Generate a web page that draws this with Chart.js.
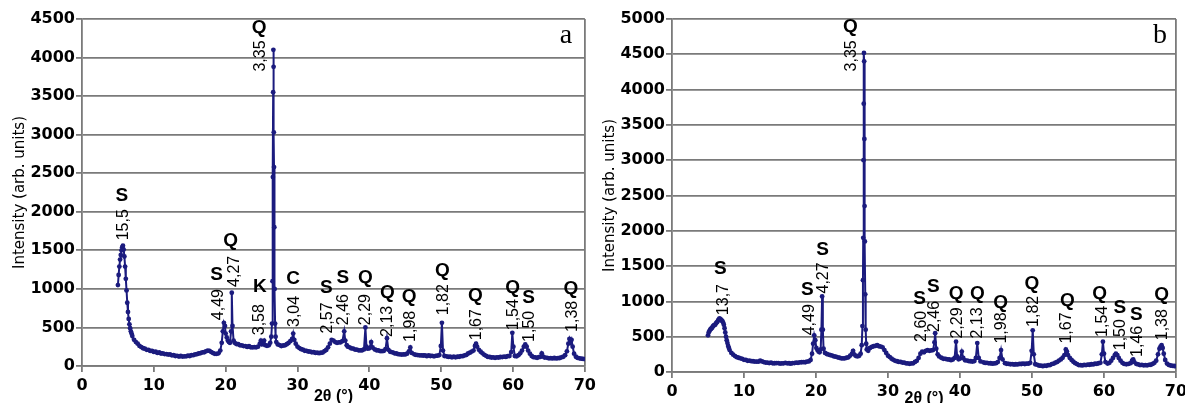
<!DOCTYPE html>
<html>
<head>
<meta charset="utf-8">
<script src="https://cdn.jsdelivr.net/npm/chart.js@4.4.1/dist/chart.umd.min.js"></script>
<style>
  html, body { margin: 0; padding: 0; background: #fff; }
  body { width: 1185px; height: 403px; overflow: hidden; position: relative; }
  .panel { position: absolute; top: 0; height: 420px; }
  #boxA { left: 0; width: 600px; }
  #boxB { left: 590px; width: 610px; }
</style>
</head>
<body>
<div class="panel" id="boxA"><canvas id="chartA"></canvas></div>
<div class="panel" id="boxB"><canvas id="chartB"></canvas></div>
<script>
// diffractogram a : [2theta, intensity]
const scanA = [
  [5.00,1050],[5.10,1180],[5.20,1290],[5.30,1380],[5.40,1440],[5.50,1500],[5.60,1540],[5.70,1560],[5.80,1510],[5.90,1420],
  [6.00,1290],[6.10,1130],[6.20,980],[6.30,820],[6.40,700],[6.50,610],[6.60,540],[6.70,490],[6.80,450],[6.90,420],
  [7.00,390],[7.25,340],[7.50,310],[7.75,290],[8.00,260],[8.25,245],[8.50,230],[8.75,225],[9.00,210],[9.25,210],
  [9.50,195],[9.75,195],[10.00,182],[10.25,185],[10.50,170],[10.75,175],[11.00,162],[11.25,165],[11.50,155],[11.75,155],
  [12.00,148],[12.25,150],[12.50,138],[12.75,140],[13.00,130],[13.25,132],[13.50,122],[13.75,130],[14.00,122],[14.25,125],
  [14.50,126],[14.75,133],[15.00,130],[15.25,140],[15.50,140],[15.75,150],[16.00,153],[16.25,162],[16.50,166],[16.75,177],
  [17.00,178],[17.25,190],[17.50,200],[17.75,195],[18.00,180],[18.25,168],[18.50,158],[18.75,158],[19.00,165],[19.25,200],
  [19.45,300],[19.60,450],[19.75,560],[19.90,520],[20.00,420],[20.15,370],[20.30,330],[20.45,310],[20.60,300],[20.75,450],
  [20.85,950],[20.95,520],[21.10,330],[21.25,300],[21.50,285],[21.75,282],[22.00,268],[22.25,268],[22.50,258],[22.75,258],
  [23.00,248],[23.25,256],[23.50,243],[23.75,242],[24.00,244],[24.25,242],[24.50,250],[24.75,290],[24.90,330],[25.05,280],
  [25.20,300],[25.35,330],[25.50,270],[25.75,262],[26.00,268],[26.20,300],[26.35,380],[26.45,550],[26.52,1100],[26.57,2450],
  [26.61,3550],[26.64,4100],[26.67,3880],[26.70,3030],[26.73,2580],[26.77,1800],[26.82,1000],[26.88,550],[26.95,380],[27.05,310],
  [27.25,280],[27.50,272],[27.75,258],[28.00,266],[28.25,268],[28.50,282],[28.75,298],[29.00,322],[29.25,350],[29.40,420],
  [29.55,340],[29.75,290],[30.00,250],[30.25,232],[30.50,218],[30.75,212],[31.00,198],[31.25,197],[31.50,188],[31.75,187],
  [32.00,178],[32.25,180],[32.50,170],[32.75,172],[33.00,166],[33.25,172],[33.50,174],[33.75,192],[34.00,208],[34.25,242],
  [34.50,290],[34.75,340],[35.00,330],[35.25,310],[35.50,300],[35.75,306],[36.00,308],[36.25,322],[36.50,450],[36.65,330],
  [36.85,270],[37.00,250],[37.25,242],[37.50,228],[37.75,226],[38.00,213],[38.25,212],[38.50,203],[38.75,202],[39.00,204],
  [39.25,215],[39.45,500],[39.60,250],[39.75,225],[40.00,230],[40.25,310],[40.45,240],[40.75,215],[41.00,204],[41.25,202],
  [41.50,193],[41.75,192],[42.00,195],[42.25,220],[42.45,360],[42.65,210],[42.90,185],[43.25,176],[43.50,164],[43.75,162],
  [44.00,153],[44.25,152],[44.50,148],[44.75,150],[45.00,150],[45.25,160],[45.50,190],[45.70,240],[45.90,170],[46.25,152],
  [46.50,143],[46.75,142],[47.00,138],[47.25,137],[47.50,136],[47.75,137],[48.00,128],[48.25,137],[48.50,130],[48.75,132],
  [49.00,126],[49.25,132],[49.50,134],[49.75,142],[49.95,260],[50.10,560],[50.25,200],[50.45,130],[50.75,126],[51.00,118],
  [51.25,120],[51.50,113],[51.75,120],[52.00,113],[52.25,120],[52.50,120],[52.75,127],[53.00,128],[53.25,137],[53.50,143],
  [53.75,162],[54.00,173],[54.25,187],[54.50,200],[54.70,260],[54.85,290],[55.00,250],[55.25,210],[55.50,185],[55.75,165],
  [56.00,145],[56.25,132],[56.50,118],[56.75,117],[57.00,110],[57.25,112],[57.50,106],[57.75,112],[58.00,110],[58.25,117],
  [58.50,116],[58.75,122],[59.00,118],[59.25,127],[59.50,130],[59.75,180],[59.90,430],[60.05,250],[60.25,130],[60.50,125],
  [60.75,140],[61.00,165],[61.25,200],[61.50,250],[61.70,280],[61.90,250],[62.10,200],[62.35,160],[62.60,130],[62.85,115],
  [63.10,112],[63.35,106],[63.60,114],[63.85,120],[64.00,165],[64.15,125],[64.40,110],[64.75,106],[65.00,100],[65.25,102],
  [65.50,98],[65.75,104],[66.00,98],[66.25,102],[66.50,104],[66.75,112],[67.00,120],[67.25,140],[67.50,190],[67.70,290],
  [67.85,350],[68.00,300],[68.15,340],[68.30,250],[68.50,160],[68.75,120],[69.00,105],[69.25,100],[69.50,95],[69.75,92],
  [70.00,90]
];

// diffractogram b : [2theta, intensity]
const scanB = [
  [5.00,520],[5.10,560],[5.20,580],[5.30,600],[5.40,610],[5.50,620],[5.60,630],[5.70,650],[5.80,660],[5.90,665],
  [6.00,670],[6.10,690],[6.20,700],[6.30,710],[6.40,730],[6.50,745],[6.60,760],[6.70,750],[6.80,740],[6.90,730],
  [7.00,720],[7.10,700],[7.20,670],[7.30,620],[7.40,560],[7.50,500],[7.60,450],[7.70,410],[7.80,370],[7.90,340],
  [8.00,310],[8.25,270],[8.50,245],[8.75,225],[9.00,210],[9.25,202],[9.50,193],[9.75,187],[10.00,173],[10.25,172],
  [10.50,158],[10.75,160],[11.00,153],[11.25,152],[11.50,148],[11.75,147],[12.00,146],[12.25,160],[12.50,150],[12.75,140],
  [13.00,133],[13.25,132],[13.50,126],[13.75,132],[14.00,123],[14.25,124],[14.50,126],[14.75,127],[15.00,120],[15.25,122],
  [15.50,123],[15.75,130],[16.00,123],[16.25,124],[16.50,118],[16.75,127],[17.00,126],[17.25,132],[17.50,130],[17.75,137],
  [18.00,138],[18.25,140],[18.50,138],[18.75,147],[19.00,150],[19.25,170],[19.45,260],[19.60,400],[19.75,520],[19.90,450],
  [20.05,340],[20.20,310],[20.35,290],[20.50,280],[20.65,320],[20.75,600],[20.85,1070],[20.95,600],[21.05,330],[21.25,270],
  [21.50,255],[21.75,247],[22.00,238],[22.25,232],[22.50,220],[22.75,217],[23.00,208],[23.25,202],[23.50,193],[23.75,192],
  [24.00,193],[24.25,202],[24.50,208],[24.75,232],[25.00,260],[25.15,300],[25.30,250],[25.50,230],[25.75,220],[26.00,230],
  [26.20,260],[26.35,380],[26.45,650],[26.52,1300],[26.56,1900],[26.60,3000],[26.63,3800],[26.66,4520],[26.69,4400],[26.72,3300],
  [26.75,2350],[26.79,1850],[26.84,1100],[26.90,600],[26.97,400],[27.05,320],[27.25,300],[27.50,340],[27.75,355],[28.00,365],
  [28.25,370],[28.50,380],[28.75,365],[29.00,360],[29.25,350],[29.50,310],[29.75,270],[30.00,230],[30.25,212],[30.50,188],
  [30.75,172],[31.00,158],[31.25,152],[31.50,143],[31.75,142],[32.00,133],[32.25,132],[32.50,123],[32.75,122],[33.00,116],
  [33.25,122],[33.50,123],[33.75,142],[34.00,158],[34.25,200],[34.50,260],[34.75,290],[35.00,280],[35.25,300],[35.50,310],
  [35.75,300],[36.00,305],[36.25,310],[36.45,420],[36.55,550],[36.70,330],[36.90,250],[37.10,220],[37.40,202],[37.70,188],
  [38.00,187],[38.25,178],[38.50,177],[38.75,168],[39.00,177],[39.25,200],[39.45,430],[39.60,220],[39.80,180],[40.00,190],
  [40.25,290],[40.45,200],[40.70,165],[41.00,162],[41.25,153],[41.50,152],[41.75,148],[42.00,155],[42.20,200],[42.40,410],
  [42.60,200],[42.85,150],[43.25,137],[43.50,128],[43.75,130],[44.00,123],[44.25,124],[44.50,118],[44.75,122],[45.00,125],
  [45.25,140],[45.50,200],[45.70,310],[45.90,180],[46.25,125],[46.50,117],[46.75,116],[47.00,110],[47.25,112],[47.50,106],
  [47.75,110],[48.00,108],[48.25,114],[48.50,113],[48.75,120],[49.00,113],[49.25,120],[49.50,118],[49.75,130],[49.95,300],
  [50.10,590],[50.25,250],[50.45,110],[50.75,102],[51.00,90],[51.25,90],[51.50,83],[51.75,90],[52.00,88],[52.25,97],
  [52.50,98],[52.75,112],[53.00,118],[53.25,132],[53.50,143],[53.75,162],[54.00,178],[54.25,202],[54.50,240],[54.70,320],
  [54.85,290],[55.00,240],[55.25,200],[55.50,170],[55.75,145],[56.00,125],[56.25,112],[56.50,98],[56.75,97],[57.00,93],
  [57.25,100],[57.50,98],[57.75,104],[58.00,103],[58.25,110],[58.50,108],[58.75,117],[59.00,116],[59.25,124],[59.50,130],
  [59.70,250],[59.85,430],[60.00,260],[60.20,140],[60.50,120],[60.75,130],[61.00,160],[61.25,200],[61.50,240],[61.65,260],
  [61.85,240],[62.05,200],[62.30,160],[62.55,130],[62.80,115],[63.10,110],[63.40,115],[63.70,125],[63.90,160],[64.05,180],
  [64.20,140],[64.50,115],[64.75,107],[65.00,98],[65.25,100],[65.50,94],[65.75,97],[66.00,95],[66.25,102],[66.50,103],
  [66.75,115],[67.00,130],[67.25,160],[67.50,250],[67.70,330],[67.85,360],[68.00,380],[68.15,340],[68.30,260],[68.50,170],
  [68.75,120],[69.00,100],[69.25,92],[69.50,88],[69.75,85],[70.00,82]
];

// peak labels: angle, intensity where the d-spacing starts, d-spacing, phase, phase letter angle / intensity
const peaksA = [
  [5.65, 1630, '15,5', 'S', 5.55, 2210],
  [18.9, 594, '4,49', 'S', 18.75, 1178],
  [21.15, 1026, '4,27', 'Q', 20.7, 1626],
  [24.6, 399, '3,58', 'K', 24.76, 1026],
  [24.67, 3818, '3,35', 'Q', 24.67, 4392],
  [29.4, 506, '3,04', 'C', 29.4, 1135],
  [34.0, 421, '2,57', 'S', 34.0, 1010],
  [36.3, 529, '2,46', 'S', 36.3, 1138],
  [39.4, 529, '2,29', 'Q', 39.45, 1138],
  [42.45, 377, '2,13', 'Q', 42.5, 951],
  [45.6, 312, '1,98', 'Q', 45.55, 896],
  [50.2, 658, '1,82', 'Q', 50.15, 1232],
  [54.77, 334, '1,67', 'Q', 54.77, 907],
  [59.95, 464, '1,54', 'Q', 59.95, 1015],
  [62.1, 312, '1,50', 'S', 62.15, 879],
  [68.1, 442, '1,38', 'Q', 68.05, 996]
];
const peaksB = [
  [6.96, 805, '13,7', 'S', 6.7, 1467],
  [19.0, 520, '4,49', 'S', 18.8, 1170],
  [20.9, 1112, '4,27', 'S', 20.9, 1735],
  [24.76, 4257, '3,35', 'Q', 24.76, 4884],
  [34.47, 426, '2,60', 'S', 34.4, 1031],
  [36.3, 567, '2,46', 'S', 36.3, 1206],
  [39.46, 474, '2,29', 'Q', 39.46, 1112],
  [42.33, 474, '2,13', 'Q', 42.4, 1112],
  [45.66, 403, '1,98', 'Q', 45.66, 982],
  [50.1, 638, '1,82', 'Q', 50.0, 1254],
  [54.7, 403, '1,67', 'Q', 54.9, 1006],
  [59.66, 497, '1,54', 'Q', 59.4, 1112],
  [62.1, 308, '1,50', 'S', 62.2, 911],
  [64.5, 213, '1,46', 'S', 64.5, 804],
  [68.0, 450, '1,38', 'Q', 68.0, 1088]
];

const xTicksMax = 70;
const yMaxA = 4500;
const yMaxB = 5000;

const gridGray = '#7a7a7a';
const navy = '#1b1b7e';

function makeChart(id, scan, peaks, yMax, tag, opt) {
  const peakLabels = {
    id: 'peakLabels',
    afterDatasetsDraw(chart) {
      const ctx = chart.ctx;
      const xs = chart.scales.x, ys = chart.scales.y;
      ctx.save();
      ctx.fillStyle = '#000';
      peaks.forEach(([a, base, d, phase, la, lv]) => {
        const px = xs.getPixelForValue(a);
        const py = ys.getPixelForValue(base);
        ctx.save();
        ctx.translate(px, py);
        ctx.rotate(-Math.PI / 2);
        ctx.font = '16px "Liberation Sans", Arial, sans-serif';
        ctx.textAlign = 'left';
        ctx.textBaseline = 'middle';
        ctx.fillText(d, 0, 1);
        ctx.restore();
        ctx.font = 'bold 19px "Liberation Sans", Arial, sans-serif';
        ctx.textAlign = 'center';
        ctx.textBaseline = 'middle';
        ctx.fillText(phase, xs.getPixelForValue(la), ys.getPixelForValue(lv));
      });
      const area = chart.chartArea;
      ctx.font = '28px "Liberation Serif", "Times New Roman", serif';
      ctx.textAlign = 'center';
      ctx.textBaseline = 'alphabetic';
      ctx.fillText(tag, area.right - opt.tagDx, area.top + 24);
      ctx.restore();
    }
  };

  return new Chart(id, {
    type: 'line',
    data: {
      datasets: [{
        data: scan.map(([x, y]) => ({x, y})),
        borderColor: navy,
        backgroundColor: navy,
        borderWidth: 2,
        pointRadius: 2.4,
        pointBorderWidth: 0,
        pointBackgroundColor: navy,
        tension: 0,
        fill: false
      }]
    },
    options: {
      responsive: true,
      maintainAspectRatio: false,
      animation: false,
      events: [],
      layout: { padding: { top: 19, left: 0, right: opt.padRight, bottom: 0 } },
      plugins: { legend: { display: false }, tooltip: { enabled: false } },
      scales: {
        x: {
          type: 'linear',
          min: 0,
          max: xTicksMax,
          afterFit: s => { s.height = opt.xHeight; },
          ticks: {
            stepSize: 10,
            padding: 4,
            color: '#000',
            callback: v => String(v),
            font: { family: '"DejaVu Sans"', weight: 'bold', size: 16 }
          },
          grid: {
            color: c => (c.tick && c.tick.value === xTicksMax ? gridGray : 'rgba(0,0,0,0)'),
            lineWidth: 1.8,
            tickLength: 6,
            tickColor: gridGray,
            tickWidth: 1.8
          },
          border: { color: gridGray, width: 1.8 },
          title: {
            display: true,
            text: '2θ (°)',
            color: '#000',
            font: { family: '"Liberation Sans"', weight: 'bold', size: 16 },
            padding: { top: 0, bottom: opt.titlePad }
          }
        },
        y: {
          min: 0,
          max: yMax,
          afterFit: s => { s.width = 82; },
          ticks: {
            stepSize: 500,
            padding: 1,
            color: '#000',
            callback: v => String(v),
            font: { family: '"DejaVu Sans"', weight: 'bold', size: 16 }
          },
          grid: {
            color: gridGray,
            lineWidth: 1.8,
            tickLength: 6,
            tickColor: gridGray
          },
          border: { color: gridGray, width: 1.8 },
          title: {
            display: true,
            text: 'Intensity (arb. units)',
            color: '#000',
            font: { family: '"DejaVu Sans"', size: 15 },
            padding: { top: 11, bottom: 0 }
          }
        }
      }
    },
    plugins: [peakLabels]
  });
}

makeChart('chartA', scanA, peaksA, yMaxA, 'a', { padRight: 14, xHeight: 54, titlePad: 14, tagDx: 19 });
makeChart('chartB', scanB, peaksB, yMaxB, 'b', { padRight: 24, xHeight: 48, titlePad: 12, tagDx: 16 });
</script>
</body>
</html>
